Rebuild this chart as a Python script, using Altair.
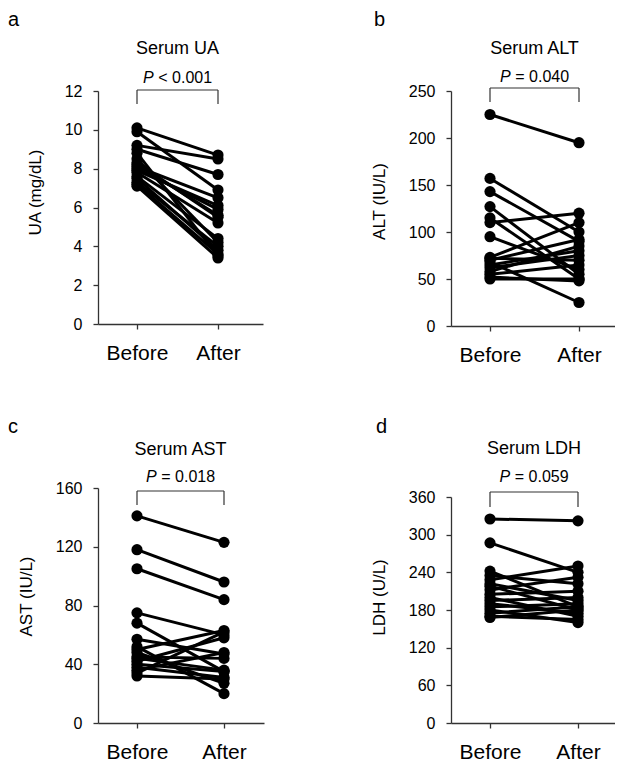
import altair as alt
import pandas as pd

FONT = "Liberation Sans"

# ---- data ----
ua_before = [10.1, 9.9, 9.2, 9.0, 8.8, 8.5, 8.3, 8.2, 8.1, 8.0, 7.9, 7.8, 7.6, 7.5, 7.3, 7.2, 7.1]
ua_after = [8.7, 6.9, 8.5, 7.7, 3.5, 4.2, 5.5, 5.6, 6.5, 5.9, 6.1, 5.2, 4.4, 3.8, 4.0, 3.6, 3.4]

alt_before = [225, 157, 143, 127, 115, 110, 95, 73, 72, 70, 68, 65, 62, 58, 55, 52, 50]
alt_after = [195, 100, 90, 55, 50, 120, 60, 110, 70, 92, 25, 80, 75, 85, 65, 48, 50]

ast_before = [141, 118, 105, 75, 68, 57, 52, 50, 48, 45, 44, 42, 40, 38, 36, 34, 32]
ast_after = [123, 96, 84, 60, 35, 47, 20, 63, 27, 44, 36, 58, 35, 31, 48, 62, 30]

ldh_before = [325, 287, 242, 235, 228, 222, 218, 212, 205, 200, 195, 190, 185, 180, 175, 170, 168]
ldh_after = [322, 240, 185, 222, 250, 195, 180, 232, 210, 170, 200, 175, 190, 160, 185, 165, 180]

time_labels = ["Before", "After"]
titles = ["Serum UA", "Serum ALT", "Serum AST", "Serum LDH"]
y_titles = ["UA (mg/dL)", "ALT (IU/L)", "AST (IU/L)", "LDH (U/L)"]
p_texts = ["< 0.001", "= 0.040", "= 0.018", "= 0.059"]
letters = ["a", "b", "c", "d"]
y_max = [12, 250, 160, 360]
y_step = [2, 50, 40, 60]

AX = "#333333"


def panel(i, before, after, W, H, xb, xa, lx, ly, ty, py, br, leg, yt):
    n = len(before)
    df = pd.DataFrame({
        "subject": list(range(n)) * 2,
        "t": [0] * n + [1] * n,
        "v": list(before) + list(after),
    })
    step = xa - xb
    xscale = alt.Scale(domain=[-xb / step, (W - xb) / step], nice=False, zero=False)
    yscale = alt.Scale(domain=[0, y_max[i]], nice=False, zero=True)
    yvals = list(range(0, y_max[i] + 1, y_step[i]))
    xenc = alt.X("t:Q", scale=xscale, axis=alt.Axis(
        values=[0, 1], tickCount=2,
        labelExpr="datum.value == 0 ? '%s' : '%s'" % (time_labels[0], time_labels[1]),
        title=None, grid=False, labelFontSize=21, labelPadding=13, tickSize=5,
        labelFlush=False, labelOverlap=False))
    yenc = alt.Y("v:Q", scale=yscale, axis=alt.Axis(
        values=yvals, tickCount=len(yvals) + 2,
        title=y_titles[i], grid=False, labelFontSize=16, titleFontSize=17,
        labelPadding=11, tickSize=5, titlePadding=20, titleFontWeight="normal",
        labelOverlap=False, labelFlush=False, titleY=yt))
    base = alt.Chart(df)
    lines = base.mark_line(color="black", strokeWidth=3).encode(x=xenc, y=yenc, detail="subject:N")
    pts = base.mark_circle(color="black", opacity=1, size=125).encode(x="t:Q", y="v:Q")
    one = alt.Chart(pd.DataFrame({"k": [0]}))
    bar = one.mark_rule(color=AX, strokeWidth=1.2).encode(
        x=alt.datum(0), x2=alt.datum(1), y=alt.value(br))
    leg0 = one.mark_rule(color=AX, strokeWidth=1.2).encode(
        x=alt.datum(0), y=alt.value(br), y2=alt.value(br + leg))
    leg1 = one.mark_rule(color=AX, strokeWidth=1.2).encode(
        x=alt.datum(1), y=alt.value(br), y2=alt.value(br + leg))
    t_title = one.mark_text(text=titles[i], font=FONT, fontSize=18, align="center",
                            baseline="alphabetic", color="black").encode(
        x=alt.datum(0.5), y=alt.value(ty))
    t_p = one.mark_text(text="P", font=FONT, fontSize=16, fontStyle="italic", align="right",
                        baseline="alphabetic", color="black", dx=-23.8).encode(
        x=alt.datum(0.5), y=alt.value(py))
    t_rest = one.mark_text(text=p_texts[i], font=FONT, fontSize=16, align="left",
                           baseline="alphabetic", color="black", dx=-19.2).encode(
        x=alt.datum(0.5), y=alt.value(py))
    t_letter = one.mark_text(text=letters[i], font=FONT, fontSize=20, align="left",
                             baseline="alphabetic", color="black").encode(
        x=alt.value(lx), y=alt.value(ly))
    return alt.layer(lines, pts, bar, leg0, leg1, t_title, t_p, t_rest, t_letter).properties(
        width=W, height=H)


pa = panel(0, ua_before, ua_after, 165, 233, 39, 120, -90, -65, -37, -8, -1, 14, 101)
pb = panel(1, alt_before, alt_after, 164, 235, 39, 128, -77, -65, -37, -9, -3, 14, 110)
pc = panel(2, ast_before, ast_after, 166, 235, 39, 126, -90, -55, -33, -6, 3, 14, 108)
pd_ = panel(3, ldh_before, ldh_after, 164, 226, 39, 127, -75, -64, -43, -15, -5, 15, 100)

col1 = alt.vconcat(pa, pc, spacing=164, bounds="flush")
col2 = alt.vconcat(pb, pd_, spacing=171, bounds="flush")

chart = alt.hconcat(col1, col2, spacing=353, bounds="flush").properties(
    padding={"left": 0, "top": 2, "right": 0, "bottom": 0}
).configure_view(stroke=None).configure_axis(
    domainColor=AX, tickColor=AX, labelColor="black", titleColor="black",
    labelFont=FONT, titleFont=FONT, domainWidth=1.3, tickWidth=1.3
)

chart.save("out.html", embed_options={"renderer": "svg", "actions": False})
